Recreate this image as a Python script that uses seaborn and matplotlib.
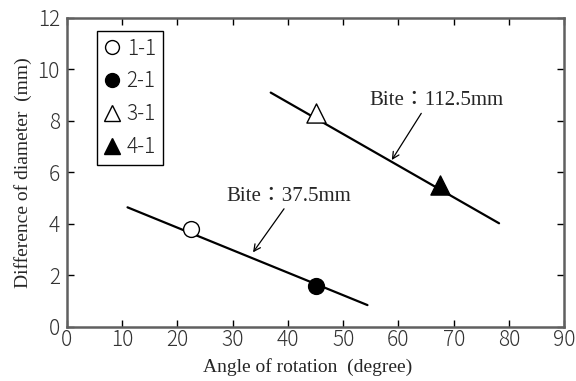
import matplotlib
matplotlib.use("Agg")
import matplotlib.pyplot as plt
from matplotlib.lines import Line2D
import seaborn as sns
import pandas as pd

# Measured samples
sample_labels = ["1-1", "2-1", "3-1", "4-1"]
sample_angle = [22.5, 45.0, 45.0, 67.5]
sample_diff = [3.8, 1.6, 8.3, 5.5]
sample_marker = ["o", "o", "^", "^"]
sample_filled = [False, True, False, True]

# Trend lines for each bite
bite_small_x = [11.0, 54.4]
bite_small_y = [4.64, 0.84]
bite_large_x = [36.9, 78.2]
bite_large_y = [9.1, 4.02]

x_ticks = [0, 10, 20, 30, 40, 50, 60, 70, 80, 90]
y_ticks = [0, 2, 4, 6, 8, 10, 12]

sns.set_theme(style="ticks")
plt.rcParams["font.family"] = ["Noto Sans CJK JP", "DejaVu Sans"]
plt.rcParams["font.weight"] = "light"
serif = ["Liberation Serif", "Noto Sans CJK JP"]

fig = plt.figure(figsize=(5.76, 3.81), dpi=100)
ax = fig.add_axes([0.1158, 0.1425, 0.8639, 0.8103])

lines = pd.DataFrame({
    "x": bite_small_x + bite_large_x,
    "y": bite_small_y + bite_large_y,
    "bite": ["37.5"] * 2 + ["112.5"] * 2,
})
sns.lineplot(data=lines, x="x", y="y", units="bite", estimator=None,
             color="black", lw=1.6, ax=ax, legend=False, zorder=2)

pts = pd.DataFrame({"angle": sample_angle, "diff": sample_diff, "label": sample_labels})
for i, lab in enumerate(sample_labels):
    size = 130 if sample_marker[i] == "o" else 190
    sns.scatterplot(data=pts[pts["label"] == lab], x="angle", y="diff",
                    marker=sample_marker[i], s=size,
                    facecolor="black" if sample_filled[i] else "white",
                    edgecolor="black", linewidth=1.0, ax=ax, zorder=3, legend=False)

ax.set_xlim(0, 90)
ax.set_ylim(0, 12)
ax.set_xticks(x_ticks)
ax.set_yticks(y_ticks)
ax.tick_params(direction="in", top=True, right=True, length=5, width=1,
               color="black", labelsize=15, labelcolor="#333333")
ax.tick_params(axis="x", pad=2)
ax.tick_params(axis="y", pad=5)
for sp in ax.spines.values():
    sp.set_color("#606060")
    sp.set_linewidth(1.8)

ax.set_xlabel("Angle of rotation  (degree)", family=serif, weight="normal",
              fontsize=14)
ax.xaxis.set_label_coords(0.484, -0.102)
ax.set_ylabel("Difference of diameter  (mm)", family=serif, weight="normal",
              fontsize=14, labelpad=4)

arrow = dict(arrowstyle="->", lw=0.9, color="black",
             shrinkA=0, shrinkB=0, mutation_scale=12)
ax.annotate("Bite\uff1a112.5mm", xy=(58.8, 6.48), xytext=(54.8, 8.79),
            family=serif, weight="normal", fontsize=15, va="center", ha="left",
            arrowprops=dict(arrow, relpos=(0.4, 0.0)))
ax.annotate("Bite\uff1a37.5mm", xy=(33.7, 2.89), xytext=(28.9, 5.08),
            family=serif, weight="normal", fontsize=15, va="center", ha="left",
            arrowprops=dict(arrow, relpos=(0.48, 0.0)))

handles = [Line2D([], [], ls="none", marker=m, markersize=10 if m == "o" else 11,
                  markerfacecolor="black" if f else "white",
                  markeredgecolor="black", markeredgewidth=1.0)
           for m, f in zip(sample_marker, sample_filled)]
leg = ax.legend(handles, sample_labels, loc="upper left",
                bbox_to_anchor=(0.061, 0.958), frameon=True,
                prop={"family": ["Noto Sans CJK JP"], "weight": "light", "size": 15},
                fancybox=False, edgecolor="black", framealpha=1,
                handlelength=0.8, handletextpad=0.3, labelspacing=0.52,
                borderpad=0.32, borderaxespad=0)
leg.get_frame().set_linewidth(1.0)

fig.savefig("out.png", dpi=100)
